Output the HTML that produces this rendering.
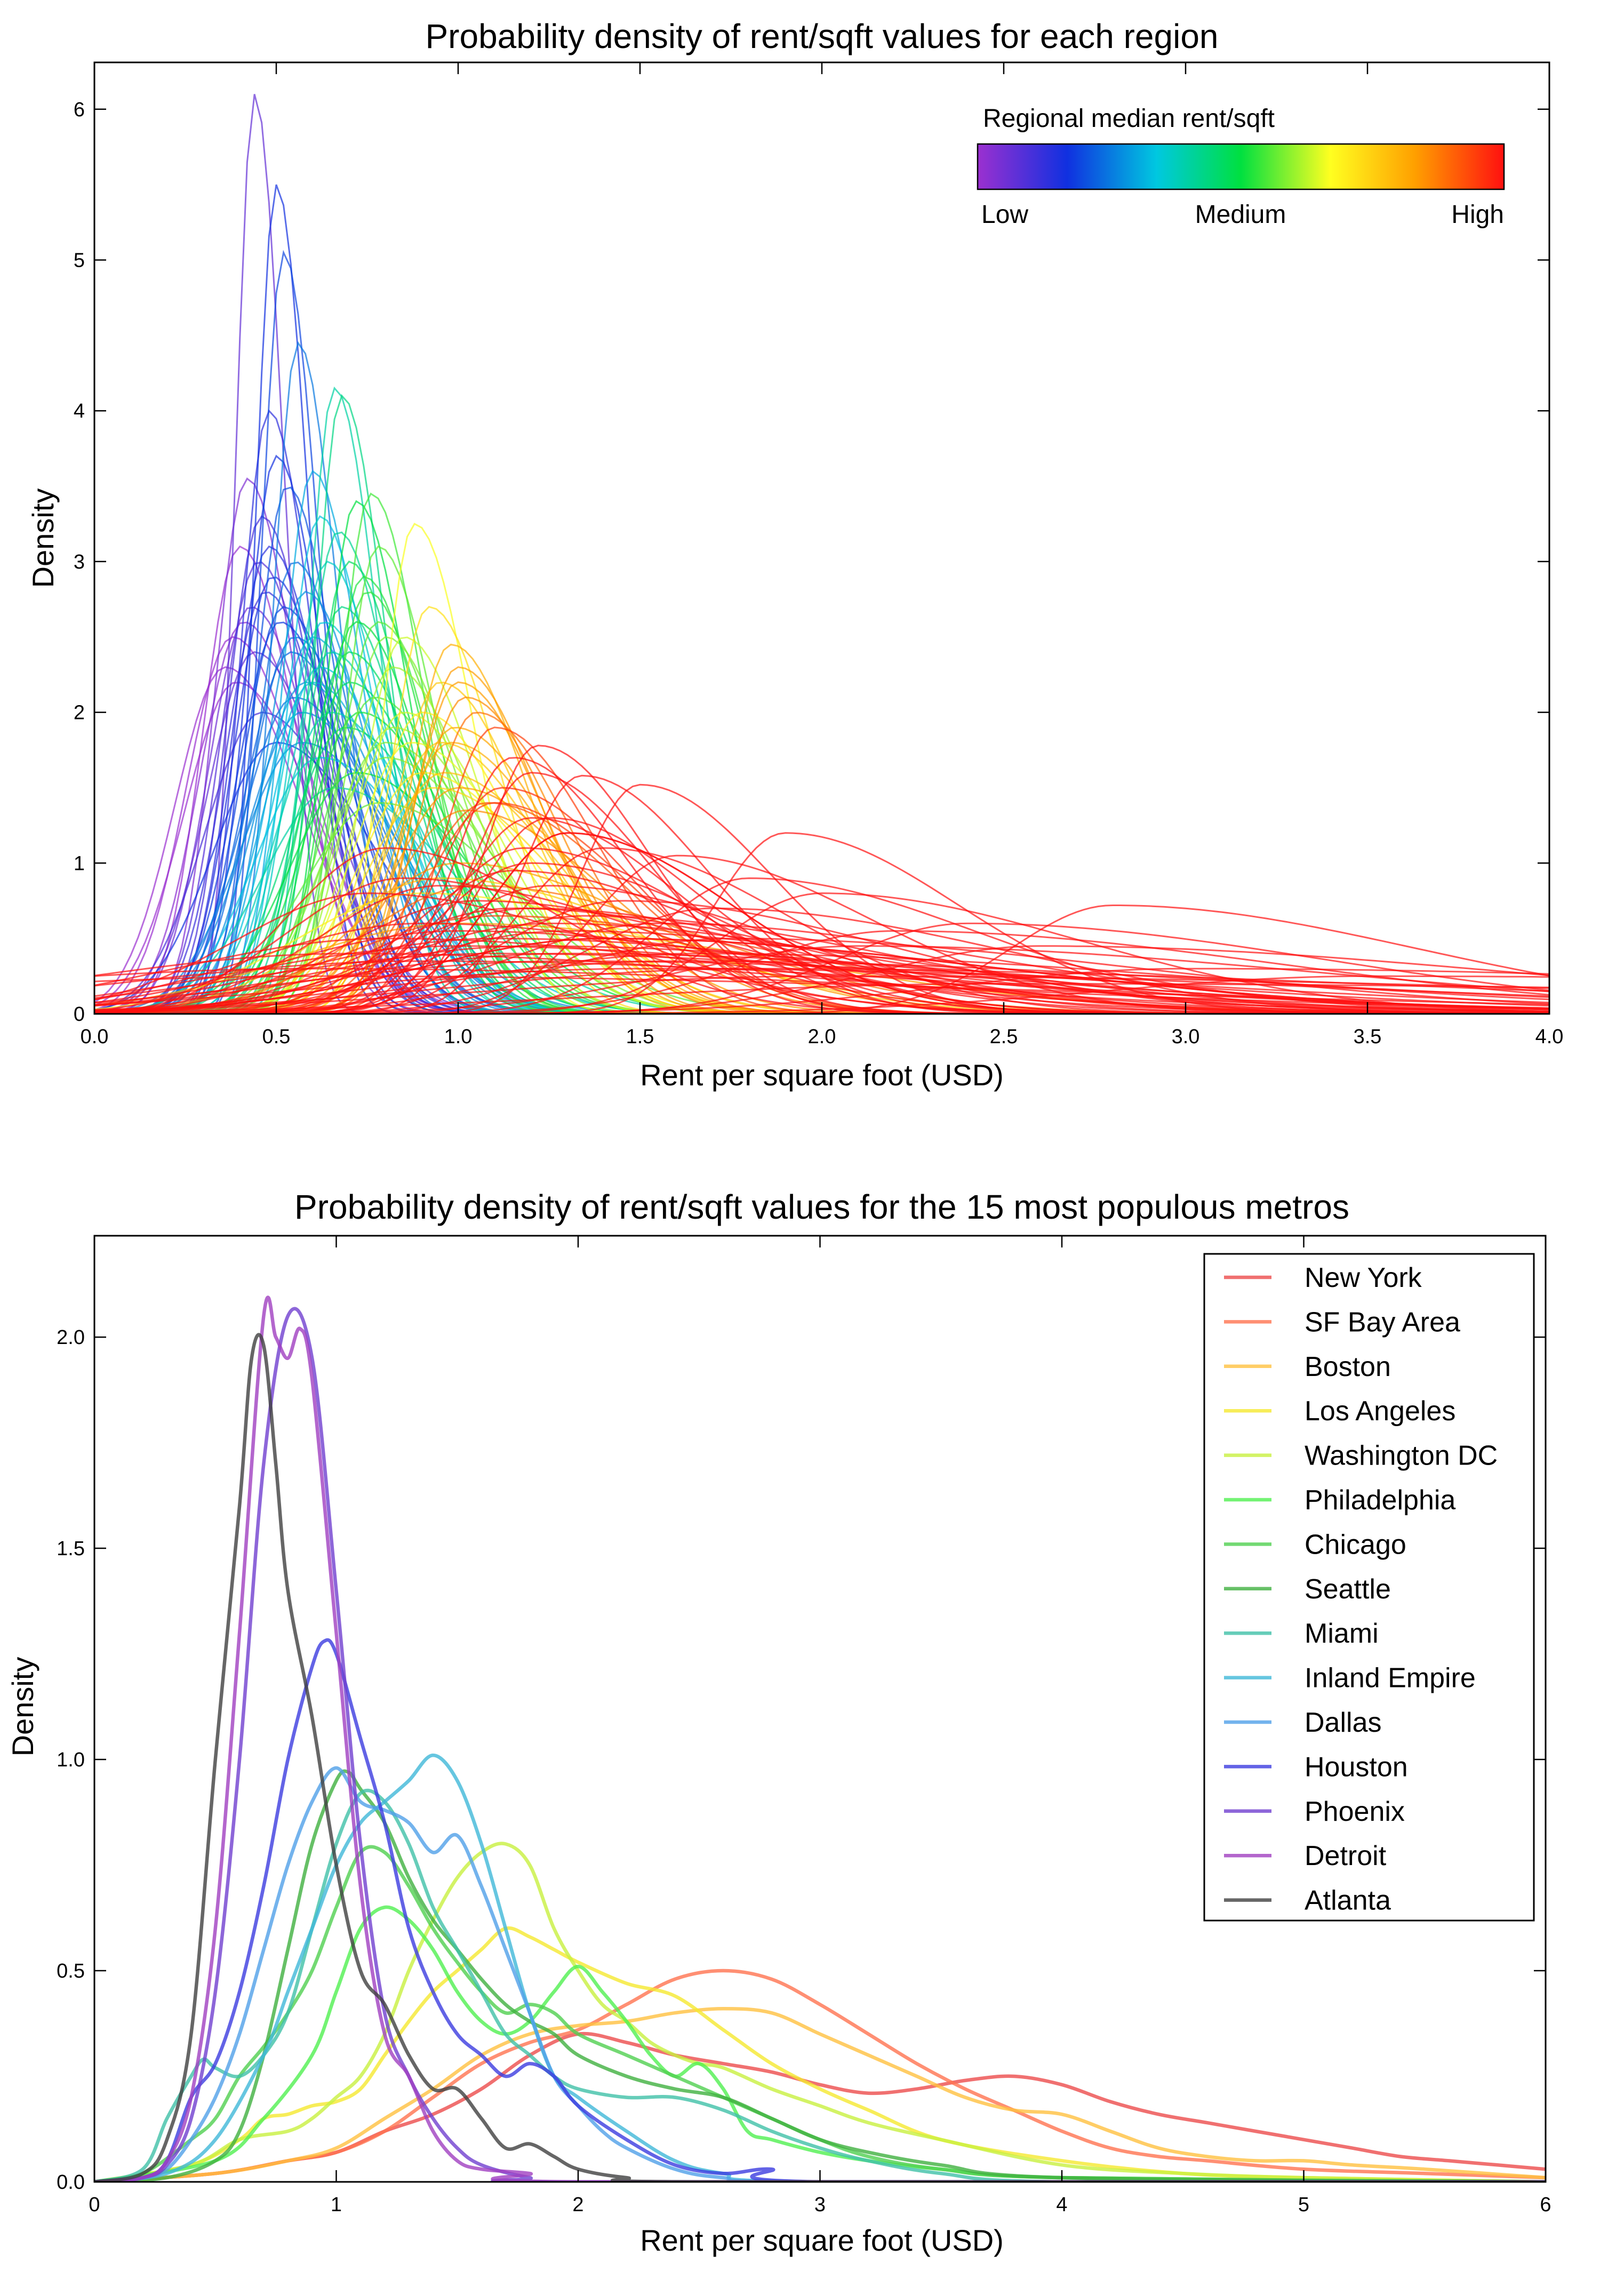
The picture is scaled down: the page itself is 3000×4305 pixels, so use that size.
<!DOCTYPE html>
<html><head><meta charset="utf-8"><style>
body{margin:0;background:#fff}
svg text{font-family:"Liberation Sans",sans-serif;fill:#000}
</style></head><body>
<svg id="fig" xmlns="http://www.w3.org/2000/svg" width="3000" height="4300" viewBox="0 0 3000 4300">
<defs>
<linearGradient id="cmap" x1="0" x2="1" y1="0" y2="0">
<stop offset="0" stop-color="#9b30d0"/><stop offset="0.17" stop-color="#1030e0"/><stop offset="0.34" stop-color="#00c8e0"/><stop offset="0.5" stop-color="#00e040"/><stop offset="0.67" stop-color="#ffff20"/><stop offset="0.83" stop-color="#ffa000"/><stop offset="1" stop-color="#ff1010"/>
</linearGradient>
<clipPath id="clipTop"><rect x="177" y="117" width="2728" height="1784"/></clipPath>
<clipPath id="clipBot"><rect x="177" y="2317" width="2721" height="1774"/></clipPath>
</defs>
<g id="top"></g>
<g id="bot"></g>
</svg>
<script>
// ---- Top chart data: each regional curve's peak location, peak height, and regional median ----
const regionPeakX = [0.44,0.50,0.52,0.56,0.48,0.42,0.46,0.5,0.53,0.55,0.4,0.45,0.47,0.51,0.38,0.43,0.49,0.54,0.58,0.36,0.41,0.44,0.48,0.52,0.57,0.6,0.39,0.46,0.5,0.55,
0.66,0.68,0.6,0.62,0.64,0.58,0.63,0.67,0.7,0.55,0.6,0.65,0.72,0.57,0.62,
0.72,0.76,0.78,0.7,0.74,0.68,0.8,0.75,0.65,0.7,0.78,0.82,0.73,0.69,0.77,0.62,0.8,0.85,0.72,0.66,
0.88,0.98,1.0,0.92,0.85,0.95,0.9,0.82,1.02,0.87,0.8,0.96,0.93,0.78,0.99,
1.0,1.05,1.1,0.95,1.15,1.2,1.0,1.08,0.98,1.25,1.3,1.12,0.9,1.18,1.02,
1.22,1.34,1.5,1.9,2.8,1.1,1.2,1.3,1.4,1.6,1.8,2.0,2.4,1.0,1.15,1.25,1.45,1.7,2.2,3.5,0.95,1.05,1.35,1.55,1.75,2.6,1.2,1.3,1.4,0.9,1.0,1.1,1.65,2.1,3.0,
0.6,0.7,0.8,0.9,1.0,1.1,1.2,1.3,0.75,0.85,0.95,1.05,1.15,1.25,1.4,1.6,1.8,0.65,0.9,1.0,1.1,1.3,1.5,2.0,2.5,0.8,1.2];
const regionPeakH = [6.1,5.5,5.05,4.45,4.0,3.55,3.3,3.7,3.5,3.0,3.1,3.0,2.8,2.6,2.5,2.7,2.9,2.4,2.2,2.3,2.6,2.4,3.1,2.7,2.0,2.5,2.2,2.0,1.8,2.1,
4.15,4.1,3.6,3.3,3.0,2.8,2.6,3.2,2.4,2.5,2.2,2.0,2.6,1.8,2.3,
3.4,3.45,3.1,3.0,2.9,2.7,2.5,2.8,2.4,2.2,2.6,2.3,2.0,1.9,2.1,1.7,1.8,2.0,1.6,1.5,
3.25,2.45,2.3,2.7,2.5,2.2,2.0,1.9,2.1,1.8,1.7,1.6,1.5,1.4,1.9,
2.2,2.0,1.9,1.8,1.7,1.6,1.5,1.4,1.8,1.3,1.2,1.5,1.6,1.1,1.35,
1.78,1.58,1.52,1.2,0.72,1.4,1.3,1.2,1.1,1.05,0.9,0.8,0.6,1.0,0.95,0.85,0.75,0.7,0.55,0.25,0.9,0.85,0.65,0.6,0.5,0.45,0.7,0.55,0.5,0.8,0.6,0.65,0.4,0.45,0.3,
0.3,0.4,0.5,0.6,0.55,0.5,0.45,0.4,0.8,0.9,0.85,0.75,0.7,0.6,0.5,0.35,0.3,0.25,0.35,0.45,0.4,0.35,0.3,0.25,0.2,1.1,1.0];
const regionMedian = regionPeakX.slice(0,130).concat([1.3,1.3,1.3,1.3,1.3,1.3,1.3,1.3,1.3,1.3,1.3,1.3,1.3,1.3,1.3,1.3,1.3,1.3,1.3,1.3,1.3,1.3,1.3,1.3,1.3,1.3,1.3]);
const topXTicks = [0.0,0.5,1.0,1.5,2.0,2.5,3.0,3.5,4.0];
const topYTicks = [0,1,2,3,4,5,6];

// ---- Bottom chart data ----
const metroNames = ["New York","SF Bay Area","Boston","Los Angeles","Washington DC","Philadelphia","Chicago","Seattle","Miami","Inland Empire","Dallas","Houston","Phoenix","Detroit","Atlanta"];
const metroColors = ["#ec4c4c","#ff7350","#ffc040","#f5e830","#c8f040","#50f050","#50d050","#40b040","#40c0a8","#40b8d8","#50a0e8","#3c3ce0","#7040d0","#a040c0","#404040"];
const nyX=[0,0.5,0.8,1.0,1.2,1.4,1.6,1.8,2.0,2.2,2.4,2.6,2.8,3.0,3.2,3.4,3.6,3.8,4.0,4.2,4.4,4.6,4.8,5.0,5.2,5.4,5.6,5.8,6.0];
const nyY=[0,0.02,0.05,0.07,0.12,0.16,0.22,0.3,0.35,0.33,0.3,0.28,0.26,0.23,0.21,0.22,0.24,0.25,0.23,0.19,0.16,0.14,0.12,0.1,0.08,0.06,0.05,0.04,0.03];
const sfX=[0,0.5,0.8,1.0,1.2,1.4,1.6,1.8,2.0,2.2,2.4,2.6,2.8,3.0,3.2,3.4,3.6,3.8,4.0,4.2,4.4,4.6,5.0,5.5,6.0];
const sfY=[0,0.02,0.05,0.07,0.12,0.2,0.28,0.33,0.36,0.42,0.48,0.5,0.48,0.42,0.35,0.28,0.22,0.17,0.12,0.08,0.06,0.05,0.03,0.02,0.01];
const bosX=[0,0.5,0.8,1.0,1.2,1.4,1.6,1.8,2.0,2.2,2.4,2.6,2.8,3.0,3.2,3.4,3.6,3.8,4.0,4.2,4.4,4.6,4.8,5.0,5.2,5.5,6.0];
const bosY=[0,0.02,0.05,0.08,0.15,0.22,0.3,0.35,0.37,0.38,0.4,0.41,0.4,0.35,0.3,0.25,0.2,0.17,0.16,0.12,0.08,0.06,0.05,0.05,0.04,0.03,0.01];
const laX=[0,0.4,0.6,0.7,0.8,0.9,1.0,1.1,1.2,1.3,1.4,1.5,1.6,1.7,1.8,1.9,2.0,2.2,2.4,2.6,2.8,3.0,3.2,3.5,4.0,4.5,5.0,6.0];
const laY=[0,0.04,0.1,0.15,0.16,0.18,0.19,0.22,0.3,0.38,0.45,0.5,0.55,0.6,0.58,0.55,0.52,0.47,0.44,0.36,0.28,0.22,0.17,0.1,0.05,0.02,0.01,0];
const dcX=[0,0.4,0.6,0.8,0.9,1.0,1.1,1.2,1.3,1.4,1.5,1.6,1.7,1.8,1.9,2.0,2.1,2.2,2.3,2.4,2.5,2.6,2.8,3.0,3.2,3.5,4.0,4.5,5.0,6.0];
const dcY=[0,0.04,0.1,0.12,0.15,0.2,0.25,0.35,0.5,0.62,0.72,0.78,0.8,0.75,0.6,0.5,0.42,0.38,0.33,0.3,0.28,0.27,0.22,0.18,0.14,0.1,0.04,0.02,0.01,0];
const phX=[0,0.5,0.7,0.9,1.0,1.1,1.2,1.3,1.4,1.5,1.6,1.7,1.8,1.9,2.0,2.1,2.2,2.3,2.4,2.5,2.6,2.7,2.8,3.0,3.2,3.5,4.0,6.0];
const phY=[0,0.05,0.15,0.3,0.45,0.6,0.65,0.62,0.55,0.45,0.38,0.35,0.38,0.45,0.51,0.45,0.38,0.3,0.25,0.28,0.22,0.12,0.1,0.07,0.05,0.03,0.01,0];
const chX=[0,0.2,0.4,0.5,0.6,0.7,0.8,0.9,1.0,1.1,1.2,1.3,1.4,1.5,1.6,1.7,1.8,1.9,2.0,2.2,2.4,2.6,2.8,3.0,3.2,3.5,4.0,6.0];
const chY=[0,0.02,0.1,0.15,0.25,0.32,0.4,0.5,0.65,0.78,0.78,0.7,0.6,0.52,0.45,0.4,0.42,0.4,0.35,0.3,0.25,0.2,0.15,0.1,0.06,0.03,0.01,0];
const seX=[0,0.3,0.5,0.6,0.7,0.8,0.9,1.0,1.05,1.1,1.2,1.3,1.4,1.5,1.6,1.7,1.8,1.9,2.0,2.2,2.4,2.6,2.8,3.0,3.2,3.5,4.0,6.0];
const seY=[0,0.01,0.05,0.12,0.3,0.55,0.8,0.95,0.97,0.93,0.85,0.72,0.62,0.55,0.48,0.42,0.38,0.35,0.3,0.25,0.22,0.2,0.15,0.1,0.07,0.04,0.01,0];
const miX=[0,0.2,0.3,0.4,0.45,0.5,0.6,0.7,0.8,0.9,1.0,1.1,1.2,1.3,1.4,1.5,1.6,1.7,1.8,1.9,2.0,2.2,2.4,2.6,2.8,3.0,3.2,3.5,4.0,6.0];
const miY=[0,0.03,0.15,0.25,0.29,0.27,0.25,0.3,0.4,0.6,0.8,0.92,0.9,0.8,0.65,0.55,0.45,0.35,0.3,0.25,0.22,0.2,0.2,0.17,0.12,0.08,0.05,0.02,0,0];
const ieX=[0,0.3,0.5,0.7,0.8,0.9,1.0,1.1,1.2,1.3,1.4,1.5,1.6,1.7,1.8,1.9,2.0,2.2,2.4,2.6,3.0,6.0];
const ieY=[0,0.02,0.1,0.3,0.45,0.6,0.75,0.85,0.9,0.95,1.01,0.95,0.8,0.6,0.4,0.25,0.2,0.12,0.05,0.02,0,0];
const daX=[0,0.2,0.3,0.4,0.5,0.6,0.7,0.8,0.9,1.0,1.1,1.2,1.3,1.4,1.5,1.6,1.7,1.8,1.9,2.0,2.1,2.2,2.4,2.6,3.0,6.0];
const daY=[0,0.01,0.03,0.1,0.2,0.35,0.55,0.75,0.9,0.98,0.9,0.88,0.85,0.78,0.82,0.7,0.55,0.4,0.25,0.18,0.12,0.08,0.03,0.01,0,0];
const hoX=[0,0.2,0.3,0.4,0.5,0.6,0.7,0.8,0.9,0.95,1.0,1.1,1.2,1.3,1.4,1.5,1.6,1.7,1.8,1.9,2.0,2.2,2.4,2.6,2.8,3.0,6.0];
const hoY=[0,0.01,0.05,0.2,0.28,0.45,0.7,1.0,1.22,1.28,1.25,1.05,0.85,0.6,0.45,0.35,0.3,0.25,0.28,0.25,0.18,0.1,0.04,0.02,0.03,0,0];
const pxX=[0,0.2,0.3,0.4,0.5,0.6,0.7,0.8,0.9,1.0,1.1,1.2,1.3,1.4,1.5,1.6,1.8,2.0,6.0];
const pxY=[0,0.01,0.04,0.15,0.45,1.0,1.7,2.05,1.95,1.4,0.8,0.4,0.25,0.15,0.08,0.04,0.01,0,0];
const deX=[0,0.2,0.3,0.4,0.5,0.6,0.7,0.75,0.8,0.85,0.9,1.0,1.1,1.2,1.3,1.4,1.5,1.6,1.8,2.0,6.0];
const deY=[0,0.01,0.05,0.2,0.6,1.3,2.05,2.0,1.95,2.02,1.9,1.3,0.7,0.35,0.25,0.12,0.05,0.03,0.02,0,0];
const atX=[0,0.2,0.3,0.4,0.5,0.6,0.65,0.7,0.75,0.8,0.9,1.0,1.1,1.2,1.3,1.4,1.5,1.6,1.7,1.8,1.9,2.0,2.2,2.5,6.0];
const atY=[0,0.02,0.1,0.35,1.0,1.6,1.95,1.98,1.7,1.4,1.1,0.75,0.5,0.42,0.3,0.22,0.22,0.15,0.08,0.09,0.06,0.03,0.01,0,0];
const metroX=[nyX,sfX,bosX,laX,dcX,phX,chX,seX,miX,ieX,daX,hoX,pxX,deX,atX];
const metroY=[nyY,sfY,bosY,laY,dcY,phY,chY,seY,miY,ieY,daY,hoY,pxY,deY,atY];
const botXTicks=[0,1,2,3,4,5,6];
const botYTicks=[0.0,0.5,1.0,1.5,2.0];

const NS="http://www.w3.org/2000/svg";
function mk(tag,parent,attrs){const e=document.createElementNS(NS,tag);for(const k in attrs)e.setAttribute(k,attrs[k]);parent.appendChild(e);return e;}
function smooth(pts){let d="M"+pts[0][0].toFixed(1)+","+pts[0][1].toFixed(1);
 for(let i=0;i<pts.length-1;i++){const p0=pts[Math.max(0,i-1)],p1=pts[i],p2=pts[i+1],p3=pts[Math.min(pts.length-1,i+2)];
  const c1=[p1[0]+(p2[0]-p0[0])/6,Math.min(Math.max(p1[1]+(p2[1]-p0[1])/6,-1e9),4091)],c2=[p2[0]-(p3[0]-p1[0])/6,Math.min(p2[1]-(p3[1]-p1[1])/6,4091)];
  d+="C"+c1[0].toFixed(1)+","+c1[1].toFixed(1)+" "+c2[0].toFixed(1)+","+c2[1].toFixed(1)+" "+p2[0].toFixed(1)+","+p2[1].toFixed(1);}
 return d;}
const stops=[[0,[155,48,208]],[0.17,[16,48,224]],[0.34,[0,200,224]],[0.5,[0,224,64]],[0.67,[255,255,32]],[0.83,[255,160,0]],[1,[255,16,16]]];
function cmap(t){t=Math.max(0,Math.min(1,t));for(let i=0;i<stops.length-1;i++){if(t<=stops[i+1][0]){const f=(t-stops[i][0])/(stops[i+1][0]-stops[i][0]);const a=stops[i][1],b=stops[i+1][1];return "rgb("+a.map((v,j)=>Math.round(v+(b[j]-v)*f)).join(",")+")";}}return "rgb(255,16,16)";}
const knotM=[0.4,0.5,0.62,0.72,0.88,1.0,1.15];
function medianToT(m){if(m<=knotM[0])return 0;for(let i=0;i<knotM.length-1;i++){if(m<=knotM[i+1])return (i+(m-knotM[i])/(knotM[i+1]-knotM[i]))/(knotM.length-1);}return 1;}

function axesFrame(g,L,T,R,B,xt,yt,sx,sy,xfmt,yfmt,pre){
 mk("rect",g,{x:L,y:T,width:R-L,height:B-T,fill:"none",stroke:"#000","stroke-width":3,});
 xt.forEach(v=>{const x=sx(v);
  mk("line",g,{x1:x,x2:x,y1:B,y2:B-22,stroke:"#000","stroke-width":2.5});
  mk("line",g,{x1:x,x2:x,y1:T,y2:T+22,stroke:"#000","stroke-width":2.5});
  const t=mk("text",g,{x:x,y:B+55,"font-size":38,"text-anchor":"middle"});t.textContent=xfmt(v);
  
  });
 yt.forEach(v=>{const y=sy(v);
  mk("line",g,{x1:L,x2:L+22,y1:y,y2:y,stroke:"#000","stroke-width":2.5});
  mk("line",g,{x1:R,x2:R-22,y1:y,y2:y,stroke:"#000","stroke-width":2.5});
  const t=mk("text",g,{x:L-18,y:y+13,"font-size":38,"text-anchor":"end"});t.textContent=yfmt(v);
  
  });
}

// ===== Top chart =====
(function(){
 const g=document.getElementById("top");
 const L=177,R=2905,T=117,B=1901;
 const sx=v=>L+(R-L)*v/4, sy=v=>B-282.7*v;
 const cg=mk("g",g,{"clip-path":"url(#clipTop)"});
 const N=regionPeakX.length;
 const order=[...Array(N).keys()].sort((a,b)=>regionMedian[a]-regionMedian[b]);
 order.forEach(i=>{
  const m=regionPeakX[i],h=regionPeakH[i];
  const k=1.3+0.6*m; const sL=1/(h*1.2533*(1+k)); const sR=sL*k;
  const pts=[];
  for(let x=0;x<=4.001;x+=0.02){const s=x<m?sL:sR;pts.push([sx(x),sy(h*Math.exp(-0.5*((x-m)/s)**2))]);}
  let d="M"+pts.map(p=>p[0].toFixed(1)+","+p[1].toFixed(1)).join("L");
  const p=mk("path",cg,{d:d,fill:"none",stroke:cmap(medianToT(regionMedian[i])),"stroke-width":3,"stroke-opacity":0.7});
  
  
 });
 axesFrame(g,L,T,R,B,topXTicks,topYTicks,sx,sy,v=>v.toFixed(1),v=>String(v),"top");
 const tt=mk("text",g,{x:1541,y:90,"font-size":64,"text-anchor":"middle",});tt.textContent="Probability density of rent/sqft values for each region";
 const xl=mk("text",g,{x:1541,y:2035,"font-size":56,"text-anchor":"middle",});xl.textContent="Rent per square foot (USD)";
 const yl=mk("text",g,{x:0,y:0,"font-size":56,"text-anchor":"middle",transform:"translate(100,1009) rotate(-90)",});yl.textContent="Density";
 const cb=mk("g",g,{});
 const ct=mk("text",cb,{x:1843,y:238,"font-size":48});ct.textContent="Regional median rent/sqft";
 mk("rect",cb,{x:1833,y:270,width:987,height:85,fill:"url(#cmap)",stroke:"#000","stroke-width":2.5});
 const lo=mk("text",cb,{x:1840,y:418,"font-size":48});lo.textContent="Low";
 const me=mk("text",cb,{x:2326,y:418,"font-size":48,"text-anchor":"middle"});me.textContent="Medium";
 const hi=mk("text",cb,{x:2820,y:418,"font-size":48,"text-anchor":"end"});hi.textContent="High";
})();

// ===== Bottom chart =====
(function(){
 const g=document.getElementById("bot");
 const L=177,R=2898,T=2317,B=4091;
 const sx=v=>L+(R-L)*v/6, sy=v=>B-(B-T)*v/2.24;
 const cg=mk("g",g,{"clip-path":"url(#clipBot)"});
 for(let i=0;i<metroNames.length;i++){
  const pts=metroX[i].map((x,j)=>[sx(x),sy(metroY[i][j])]);
  const p=mk("path",cg,{d:smooth(pts),fill:"none",stroke:metroColors[i],"stroke-width":6.5,"stroke-opacity":0.8,"stroke-linejoin":"round"});
  
  
 }
 axesFrame(g,L,T,R,B,botXTicks,botYTicks,sx,sy,v=>String(v),v=>v.toFixed(1),"bottom");
 const tt=mk("text",g,{x:1541,y:2285,"font-size":64,"text-anchor":"middle",});tt.textContent="Probability density of rent/sqft values for the 15 most populous metros";
 const xl=mk("text",g,{x:1541,y:4220,"font-size":56,"text-anchor":"middle",});xl.textContent="Rent per square foot (USD)";
 const yl=mk("text",g,{x:0,y:0,"font-size":56,"text-anchor":"middle",transform:"translate(62,3200) rotate(-90)",});yl.textContent="Density";
 const lg=mk("g",g,{});
 mk("rect",lg,{x:2258,y:2351,width:618,height:1250,fill:"#fff",stroke:"#000","stroke-width":3});
 metroNames.forEach((n,i)=>{const y=2395+i*83.4;
  const ln=mk("line",lg,{x1:2295,x2:2384,y1:y,y2:y,stroke:metroColors[i],"stroke-width":6.5,"stroke-opacity":0.8});
  
  
  const t=mk("text",lg,{x:2446,y:y+18,"font-size":52});t.textContent=n;
  
  });
})();
</script>
</body></html>
